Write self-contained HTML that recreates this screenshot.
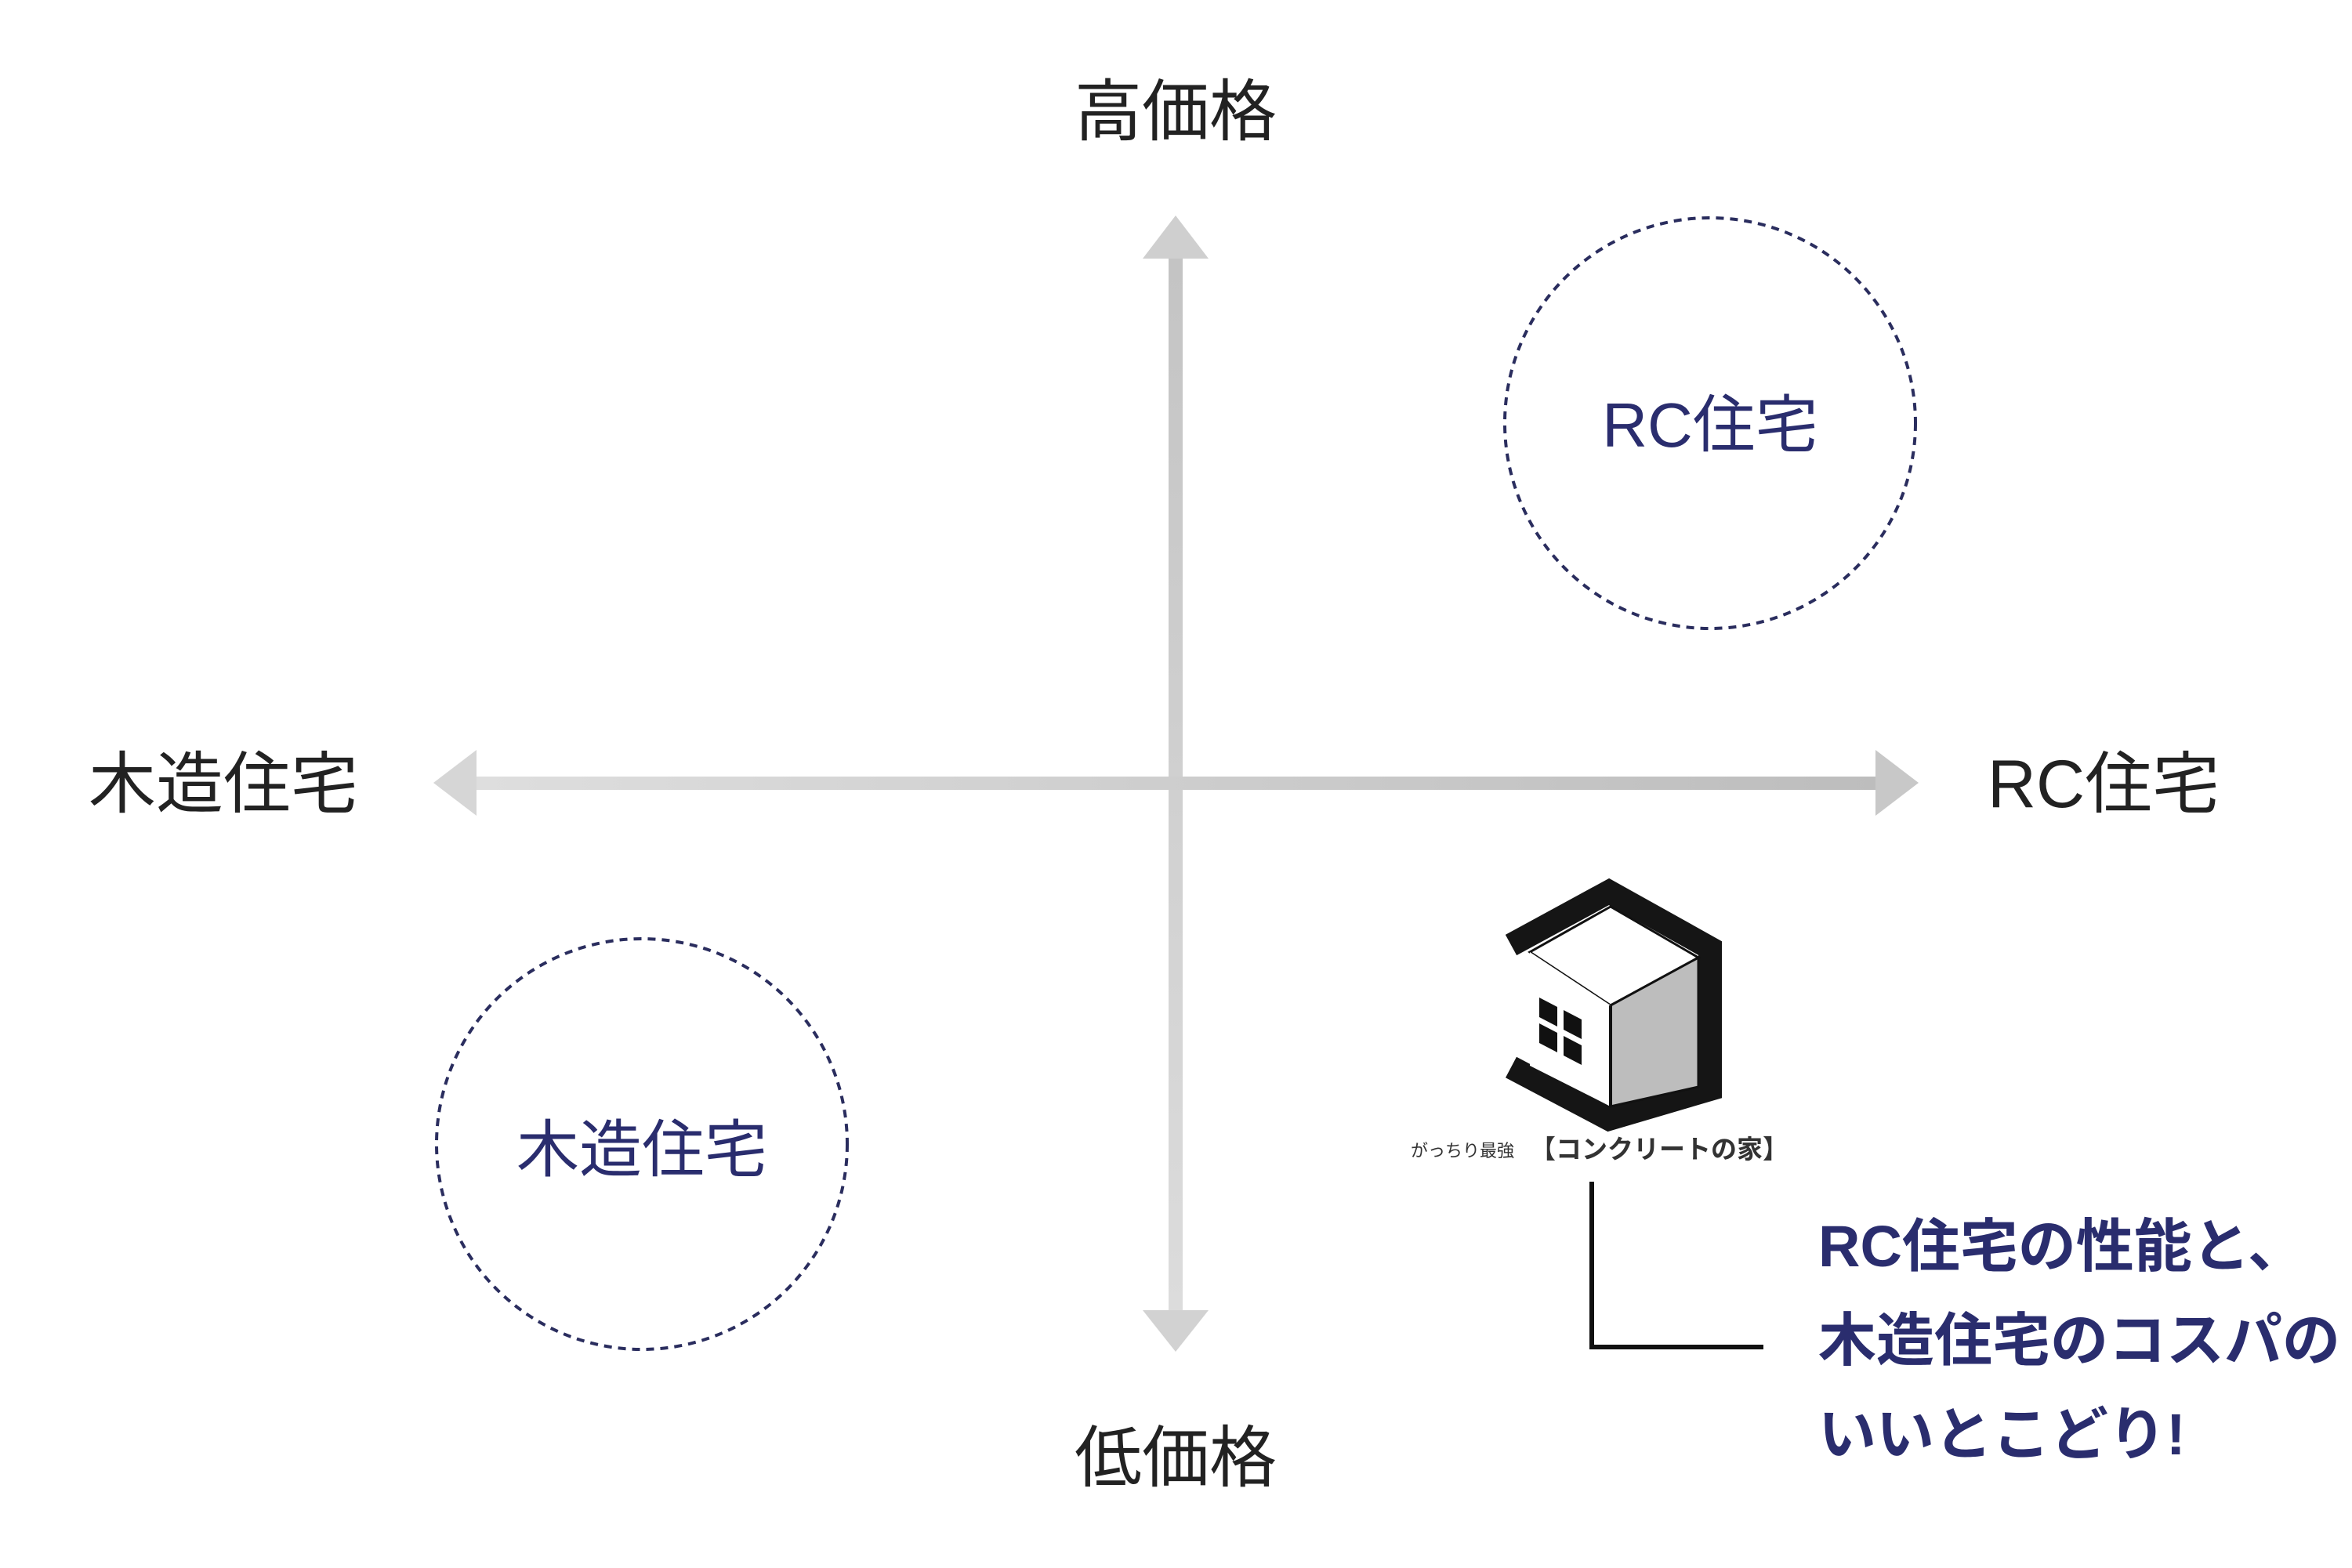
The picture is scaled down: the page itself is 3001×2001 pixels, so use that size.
<!DOCTYPE html>
<html><head><meta charset="utf-8"><style>
body{margin:0;background:#fff;}
svg{display:block;}
</style></head><body>
<svg width="3001" height="2001" viewBox="0 0 3001 2001" xmlns="http://www.w3.org/2000/svg">
<defs>
<linearGradient id="hg" x1="0" x2="1" y1="0" y2="0"><stop offset="0" stop-color="#dedede"/><stop offset="1" stop-color="#bdbdbd"/></linearGradient>
<linearGradient id="vg" x1="0" x2="0" y1="0" y2="1"><stop offset="0" stop-color="#c4c4c4"/><stop offset="1" stop-color="#dcdcdc"/></linearGradient>
</defs>
<rect x="1491" y="328" width="18" height="1350" fill="url(#vg)"/>
<polygon points="1500,275 1458,330 1542,330" fill="#cfcfcf"/>
<polygon points="1500,1725 1458,1672 1542,1672" fill="#d2d2d2"/>
<rect x="605" y="991" width="1790" height="17" fill="url(#hg)"/>
<polygon points="553,999 608,957 608,1041" fill="#d6d6d6"/>
<polygon points="2448,999 2393,957 2393,1041" fill="#c8c8c8"/>
<g font-family="'Liberation Sans','Noto Sans CJK JP',sans-serif" fill="#222">
<text x="1500" y="172" font-size="86" text-anchor="middle">高価格</text>
<text x="1500" y="1890" font-size="86" text-anchor="middle">低価格</text>
<text x="285" y="1030" font-size="86" text-anchor="middle">木造住宅</text>
<text x="2684" y="1030" font-size="86" text-anchor="middle">RC住宅</text>
</g>
<circle cx="2182" cy="540" r="262" fill="none" stroke="#2a2d5e" stroke-width="4" stroke-dasharray="10,8"/>
<circle cx="819" cy="1460" r="262" fill="none" stroke="#2a2d5e" stroke-width="4" stroke-dasharray="10,8"/>
<g font-family="'Liberation Sans','Noto Sans CJK JP',sans-serif" fill="#2a2d6e" font-size="80" text-anchor="middle">
<text x="2182" y="570">RC住宅</text>
<text x="819" y="1495">木造住宅</text>
</g>
<polyline points="1928,1206 2053,1138 2182,1210 2182,1390 2053,1428 1928,1362" fill="none" stroke="#151515" stroke-width="30" stroke-linejoin="miter"/>
<polygon points="2055,1157 1952,1215 2055,1283 2167,1222" fill="#fff" stroke="#111" stroke-width="3"/>
<polygon points="2055,1283 2167,1222 2167,1387 2055,1412" fill="#bdbdbd" stroke="#111" stroke-width="3"/>
<polygon points="1952,1215 2055,1283 2055,1412 1952,1360" fill="#fff"/>
<line x1="2055" y1="1283" x2="2055" y2="1412" stroke="#111" stroke-width="4"/>
<polygon points="1964,1273 1987,1285 1987,1310 1964,1298" fill="#111"/>
<polygon points="1995,1289 2018,1301 2018,1326 1995,1314" fill="#111"/>
<polygon points="1964,1306 1987,1318 1987,1343 1964,1331" fill="#111"/>
<polygon points="1995,1322 2018,1334 2018,1359 1995,1347" fill="#111"/>
<g font-family="'Liberation Sans','Noto Sans CJK JP',sans-serif" fill="#333">
<text x="1800" y="1476" font-size="22">がっちり最強</text>
<text x="1952" y="1478" font-size="33" font-weight="bold">【コンクリートの家】</text>
</g>
<polyline points="2031,1508 2031,1719 2250,1719" fill="none" stroke="#111" stroke-width="6"/>
<g font-family="'Liberation Sans','Noto Sans CJK JP',sans-serif" fill="#2a2d6e" font-size="74" font-weight="bold">
<text x="2320" y="1616">RC住宅の性能と、</text>
<text x="2320" y="1736">木造住宅のコスパの</text>
<text x="2320" y="1856">いいとこどり!</text>
</g>
</svg>
</body></html>
